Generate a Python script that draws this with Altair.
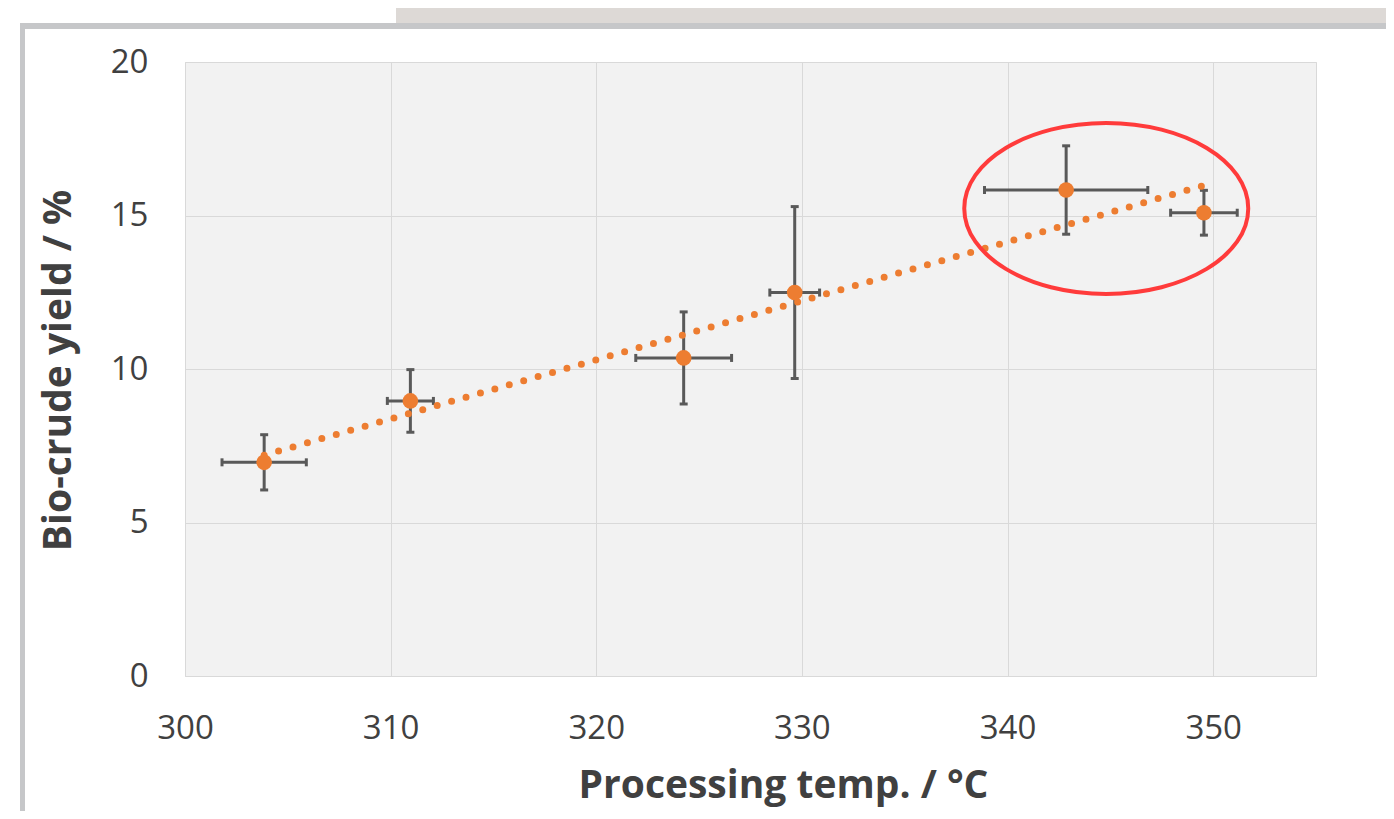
import altair as alt
import pandas as pd

# ---- data ----
temp = [303.85, 310.96, 324.25, 329.65, 342.85, 349.55]
bio_yield = [6.96, 8.96, 10.36, 12.49, 15.83, 15.09]
temp_err = [2.05, 1.12, 2.33, 1.21, 3.97, 1.62]
yield_err = [0.90, 1.02, 1.50, 2.80, 1.44, 0.73]

x_ticks = [300, 310, 320, 330, 340, 350]
y_ticks = [0, 5, 10, 15, 20]

highlight_temp = [344.8]
highlight_yield = [15.23]

ORANGE = "#ED7D31"
BAR = "#595959"
TEXT = "#404040"
FONT = "Open Sans"

df = pd.DataFrame({"temp": temp, "bio_yield": bio_yield,
                   "terr": temp_err, "yerr": yield_err})
hl = pd.DataFrame({"temp": highlight_temp, "bio_yield": highlight_yield})
deco = pd.DataFrame({"k": [0]})

xs = alt.Scale(domain=[300, 355], nice=False, zero=False)
ys = alt.Scale(domain=[0, 20], nice=False, zero=True)

xax = alt.Axis(values=x_ticks, title="Processing temp. / °C", grid=True,
               ticks=False, tickSize=0, domain=False, labelPadding=36,
               labelFlush=False, labelOverlap=False,
               titleX=598, titleY=121, titleBaseline="alphabetic",
               titleAlign="center")
yax = alt.Axis(values=y_ticks, title="Bio-crude yield / %", grid=True,
               ticks=False, tickSize=0, domain=False, labelPadding=37,
               labelFlush=False, labelOverlap=False,
               titleX=-115, titleY=308, titleBaseline="alphabetic",
               titleAlign="center", titleAngle=270)


def X(f):
    return alt.X(f, type="quantitative", scale=xs, axis=xax)


def Y(f):
    return alt.Y(f, type="quantitative", scale=ys, axis=yax)


base = alt.Chart(df).transform_calculate(
    xlo="datum.temp - datum.terr",
    xhi="datum.temp + datum.terr",
    ylo="datum.bio_yield - datum.yerr",
    yhi="datum.bio_yield + datum.yerr",
)

vbar = base.mark_rule(color=BAR, strokeWidth=3).encode(
    x=X("temp"), y=Y("ylo"), y2="yhi")
hbar = base.mark_rule(color=BAR, strokeWidth=3).encode(
    x=X("xlo"), x2="xhi", y=Y("bio_yield"))
cap_lo = base.mark_tick(color=BAR, orient="horizontal", size=8, thickness=3,
                        opacity=1).encode(x=X("temp"), y=Y("ylo"))
cap_hi = base.mark_tick(color=BAR, orient="horizontal", size=8, thickness=3,
                        opacity=1).encode(x=X("temp"), y=Y("yhi"))
cap_l = base.mark_tick(color=BAR, orient="vertical", size=8, thickness=3,
                       opacity=1).encode(x=X("xlo"), y=Y("bio_yield"))
cap_r = base.mark_tick(color=BAR, orient="vertical", size=8, thickness=3,
                       opacity=1).encode(x=X("xhi"), y=Y("bio_yield"))

trend = alt.Chart(df).transform_regression(
    "temp", "bio_yield", method="linear"
).mark_line(color=ORANGE, strokeWidth=7, strokeDash=[0, 15],
            strokeCap="round").encode(x=X("temp"), y=Y("bio_yield"))

points = alt.Chart(df).mark_point(
    filled=True, color=ORANGE, size=245, opacity=1, shape="circle"
).encode(x=X("temp"), y=Y("bio_yield"))

ellipse_path = "M-1,0 A1,0.602 0 1,1 1,0 A1,0.602 0 1,1 -1,0 Z"
ellipse = alt.Chart(hl).mark_point(
    shape=ellipse_path, size=284 * 284, filled=False, color="#FF3B3B",
    stroke="#FF3B3B", strokeWidth=4, opacity=1
).encode(x=X("temp"), y=Y("bio_yield"))

# slide decoration around the chart (tab and panel border)
tab = alt.Chart(deco).mark_rect(color="#DDD9D6").encode(
    x=alt.value(211), x2=alt.value(1220), y=alt.value(-70), y2=alt.value(-39))
top_border = alt.Chart(deco).mark_rect(color="#C6C7C9").encode(
    x=alt.value(-165), x2=alt.value(1220), y=alt.value(-39), y2=alt.value(-33))
left_border = alt.Chart(deco).mark_rect(color="#C6C7C9").encode(
    x=alt.value(-165), x2=alt.value(-160), y=alt.value(-39), y2=alt.value(800))

chart = alt.layer(
    tab, top_border, left_border,
    vbar, hbar, cap_lo, cap_hi, cap_l, cap_r,
    trend, points, ellipse
).properties(
    width=1131, height=614,
    autosize=alt.AutoSizeParams(type="none"),
    padding={"left": 177, "top": 54, "right": 70, "bottom": 135},
    background="white",
).configure_view(
    fill="#F2F2F2", stroke="#D9D9D9", strokeWidth=1
).configure_axis(
    gridColor="#D9D9D9", gridWidth=1,
    labelFont=FONT, labelFontSize=33, labelColor=TEXT,
    titleFont=FONT, titleFontSize=39, titleFontWeight="bold", titleColor=TEXT,
)

chart.save("out.html", embed_options={"renderer": "svg", "actions": False})
